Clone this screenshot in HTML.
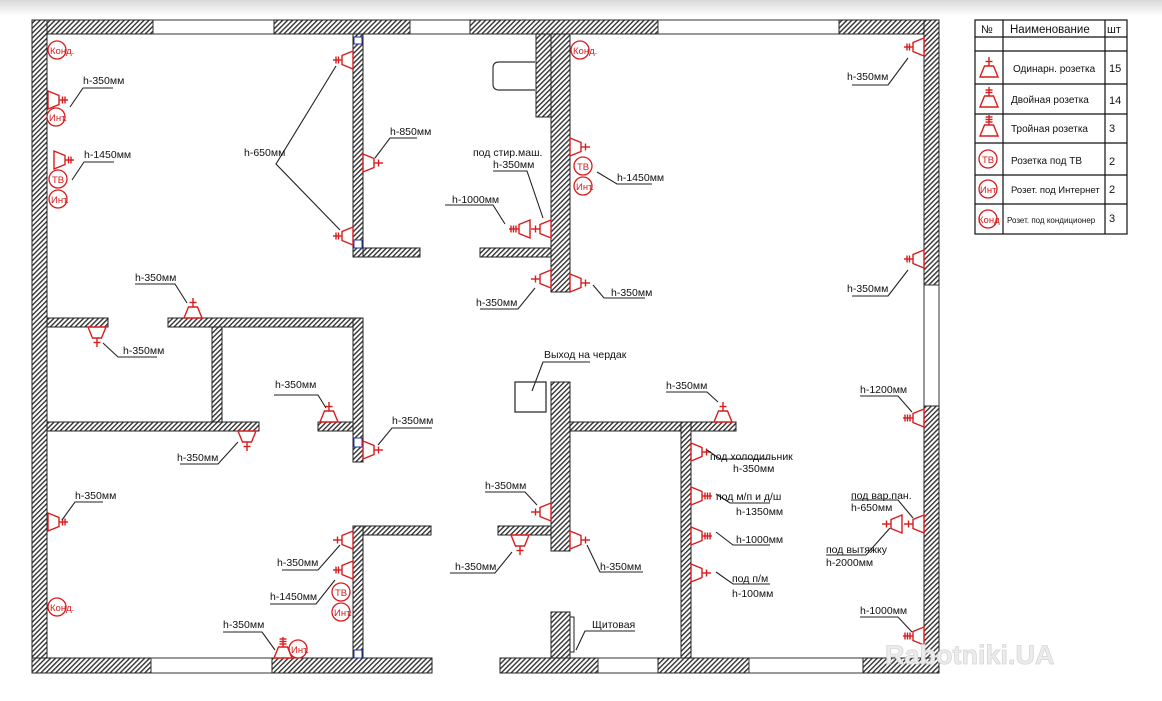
<!DOCTYPE html>
<html><head><meta charset="utf-8"><style>
html,body{margin:0;padding:0;background:#fff;}
svg{display:block;font-family:"Liberation Sans",sans-serif;}
.t{font-size:10.5px;fill:#111;}
.r{fill:#d81c1c;font-size:9.5px;}
.ld{stroke:#222;stroke-width:1.1;fill:none;}
.w{fill:url(#h);stroke:#222;stroke-width:1;}
.win{fill:#fff;stroke:#333;stroke-width:1;}
.s{stroke:#d81c1c;stroke-width:1.4;fill:none;}
</style></head><body>
<svg width="1162" height="701" viewBox="0 0 1162 701" xmlns="http://www.w3.org/2000/svg">
<defs>
<linearGradient id="g" x1="0" y1="0" x2="0" y2="1"><stop offset="0" stop-color="#d8d8d8"/><stop offset="1" stop-color="#fff"/></linearGradient>
<pattern id="h" patternUnits="userSpaceOnUse" width="3.5" height="3.5" patternTransform="rotate(45)">
<rect width="3.5" height="3.5" fill="#fff"/><rect width="1.4" height="3.5" fill="#333"/></pattern>
<g id="s1"><polygon class="s" points="-9,0 9,0 4.5,-11 -4.5,-11"/><line class="s" x1="0" y1="-11" x2="0" y2="-20"/><line class="s" x1="-3.5" y1="-15.5" x2="3.5" y2="-15.5"/></g>
<g id="s2"><polygon class="s" points="-9,0 9,0 4.5,-11 -4.5,-11"/><line class="s" x1="0" y1="-11" x2="0" y2="-20"/><line class="s" x1="-3.5" y1="-14.5" x2="3.5" y2="-14.5"/><line class="s" x1="-3.5" y1="-17" x2="3.5" y2="-17"/></g>
<g id="s3"><polygon class="s" points="-9,0 9,0 4.5,-11 -4.5,-11"/><line class="s" x1="0" y1="-11" x2="0" y2="-21"/><line class="s" x1="-3.5" y1="-14" x2="3.5" y2="-14"/><line class="s" x1="-3.5" y1="-16.5" x2="3.5" y2="-16.5"/><line class="s" x1="-3.5" y1="-19" x2="3.5" y2="-19"/></g>
</defs>
<rect width="1162" height="16" fill="url(#g)"/>

<!-- outer walls -->
<rect class="w" x="32" y="20" width="121" height="14"/>
<rect class="win" x="153" y="20" width="121" height="14"/>
<rect class="w" x="274" y="20" width="136" height="14"/>
<rect class="win" x="410" y="20" width="60" height="14"/>
<rect class="w" x="470" y="20" width="188" height="14"/>
<rect class="win" x="658" y="20" width="181" height="14"/>
<rect class="w" x="839" y="20" width="100" height="14"/>
<rect class="w" x="32" y="20" width="15" height="653"/>
<rect class="w" x="924" y="20" width="15" height="265"/>
<rect class="win" x="924" y="285" width="15" height="121"/>
<rect class="w" x="924" y="406" width="15" height="267"/>
<rect class="w" x="32" y="658" width="119" height="15"/>
<rect class="win" x="151" y="658" width="121" height="15"/>
<rect class="w" x="272" y="658" width="160" height="15"/>
<rect class="w" x="500" y="658" width="98" height="15"/>
<rect class="win" x="598" y="658" width="60" height="15"/>
<rect class="w" x="658" y="658" width="91" height="15"/>
<rect class="win" x="749" y="658" width="114" height="15"/>
<rect class="w" x="863" y="658" width="76" height="15"/>

<!-- interior left -->
<rect class="w" x="353" y="34" width="10" height="223"/>
<rect class="w" x="363" y="248" width="57" height="9"/>
<rect class="w" x="47" y="318" width="61" height="9"/>
<rect class="w" x="168" y="318" width="195" height="9"/>
<rect class="w" x="353" y="318" width="10" height="144"/>
<rect class="w" x="212" y="327" width="10" height="95"/>
<rect class="w" x="47" y="422" width="212" height="9"/>
<rect class="w" x="318" y="422" width="35" height="9"/>
<rect class="w" x="353" y="526" width="10" height="132"/>
<rect class="w" x="363" y="526" width="68" height="9"/>
<rect x="354" y="37" width="8" height="7" fill="#fff" stroke="#2233aa"/>
<rect x="354" y="240" width="8" height="8" fill="#fff" stroke="#2233aa"/>
<rect x="354" y="438" width="8" height="9" fill="#fff" stroke="#2233aa"/>
<rect x="354" y="650" width="8" height="8" fill="#fff" stroke="#2233aa"/>

<!-- interior middle -->
<rect class="w" x="536" y="34" width="15" height="83"/>
<rect class="w" x="551" y="34" width="19" height="258"/>
<path d="M535 62 H499 Q493 62 493 68 V84 Q493 90 499 90 H535" fill="#fff" stroke="#333" stroke-width="1.2"/>
<rect class="w" x="480" y="248" width="71" height="9"/>
<rect class="w" x="551" y="382" width="19" height="169"/>
<rect class="w" x="498" y="526" width="53" height="9"/>
<rect x="515" y="382" width="31" height="30" fill="#fff" stroke="#222" stroke-width="1.2"/>
<rect class="w" x="570" y="422" width="166" height="9"/>
<rect class="w" x="681" y="422" width="10" height="236"/>
<rect class="w" x="551" y="612" width="19" height="46"/>
<rect x="570" y="617" width="4" height="35" fill="#fff" stroke="#222"/>

<!-- circles -->
<g fill="none" stroke="#d81c1c" stroke-width="1.3">
<circle cx="57" cy="50" r="9"/><circle cx="56" cy="117" r="9"/><circle cx="58" cy="179" r="9"/><circle cx="58" cy="199" r="9"/>
<circle cx="580" cy="50" r="9"/><circle cx="583" cy="166" r="9"/><circle cx="583" cy="186" r="9"/>
<circle cx="57" cy="607" r="9"/><circle cx="341" cy="592" r="9"/><circle cx="341" cy="612" r="9"/><circle cx="298" cy="649" r="9"/>
</g>
<g class="r">
<text x="50" y="54">Конд.</text><text x="49" y="121">Инт.</text><text x="52" y="183">ТВ</text><text x="51" y="203">Инт.</text>
<text x="573" y="54">Конд.</text><text x="577" y="170">ТВ</text><text x="576" y="190">Инт.</text>
<text x="50" y="611">Конд.</text><text x="335" y="596">ТВ</text><text x="334" y="616">Инт.</text><text x="291" y="653">Инт.</text>
</g>

<!-- sockets -->
<use href="#s2" transform="translate(48,100) rotate(90)"/>
<use href="#s2" transform="translate(54,160) rotate(90)"/>
<use href="#s2" transform="translate(353,60) rotate(-90)"/>
<use href="#s2" transform="translate(353,236) rotate(-90)"/>
<use href="#s1" transform="translate(363,163) rotate(90)"/>
<use href="#s1" transform="translate(193,318)"/>
<use href="#s1" transform="translate(97,327) rotate(180)"/>
<use href="#s1" transform="translate(570,147) rotate(90)"/>
<use href="#s1" transform="translate(551,229) rotate(-90)"/>
<use href="#s3" transform="translate(530,229) rotate(-90)"/>
<use href="#s1" transform="translate(551,279) rotate(-90)"/>
<use href="#s1" transform="translate(570,283) rotate(90)"/>
<use href="#s2" transform="translate(924,47) rotate(-90)"/>
<use href="#s2" transform="translate(924,259) rotate(-90)"/>
<use href="#s3" transform="translate(924,418) rotate(-90)"/>
<use href="#s1" transform="translate(924,524) rotate(-90)"/>
<use href="#s1" transform="translate(902,524) rotate(-90)"/>
<use href="#s3" transform="translate(924,636) rotate(-90)"/>
<use href="#s1" transform="translate(691,452) rotate(90)"/>
<use href="#s3" transform="translate(691,496) rotate(90)"/>
<use href="#s3" transform="translate(691,536) rotate(90)"/>
<use href="#s1" transform="translate(691,573) rotate(90)"/>
<use href="#s1" transform="translate(723,422)"/>
<use href="#s1" transform="translate(551,512) rotate(-90)"/>
<use href="#s1" transform="translate(520,535) rotate(180)"/>
<use href="#s1" transform="translate(570,540) rotate(90)"/>
<use href="#s2" transform="translate(48,522) rotate(90)"/>
<use href="#s1" transform="translate(247,431) rotate(180)"/>
<use href="#s1" transform="translate(329,422)"/>
<use href="#s1" transform="translate(363,450) rotate(90)"/>
<use href="#s1" transform="translate(353,540) rotate(-90)"/>
<use href="#s2" transform="translate(353,570) rotate(-90)"/>
<use href="#s3" transform="translate(283,658)"/>

<!-- leaders -->
<g class="ld">
<path d="M70 107 L83 88 H113"/>
<path d="M72 180 L84 162 H114"/>
<path d="M336 66 L276 164 L340 230"/>
<path d="M375 158 L390 138 H417"/>
<path d="M187 303 L175 284 H135"/>
<path d="M103 343 L118 357 H157"/>
<path d="M597 172 L617 184 H652"/>
<path d="M543 218 L527 171 H493"/>
<path d="M505 224 L493 205 H445"/>
<path d="M535 288 L518 309 H480"/>
<path d="M593 285 L604 298 H645"/>
<path d="M908 58 L888 85 H852"/>
<path d="M908 270 L888 296 H852"/>
<path d="M912 412 L898 396 H860"/>
<path d="M913 518 L898 500 H851"/>
<path d="M890 528 L866 555 H826"/>
<path d="M912 632 L898 617 H860"/>
<path d="M707 450 L720 459 H770"/>
<path d="M716 494 L730 503 H770"/>
<path d="M716 532 L733 545 H770"/>
<path d="M716 572 L733 584 H770"/>
<path d="M718 402 L707 392 H666"/>
<path d="M537 505 L525 492 H485"/>
<path d="M512 552 L495 573 H450"/>
<path d="M587 545 L600 572 H643"/>
<path d="M532 391 L543 362 H590"/>
<path d="M576 650 L585 631 H635"/>
<path d="M62 520 L75 502 H103"/>
<path d="M238 442 L218 464 H180"/>
<path d="M326 408 L318 395 H274"/>
<path d="M378 445 L392 428 H432"/>
<path d="M340 545 L318 570 H282"/>
<path d="M335 580 L316 604 H270"/>
<path d="M275 650 L262 632 H223"/>
</g>

<!-- labels -->
<g class="t">
<text x="83" y="84">h-350мм</text>
<text x="84" y="158">h-1450мм</text>
<text x="244" y="156">h-650мм</text>
<text x="390" y="135">h-850мм</text>
<text x="135" y="281">h-350мм</text>
<text x="123" y="354">h-350мм</text>
<text x="473" y="156">под стир.маш.</text>
<text x="493" y="168">h-350мм</text>
<text x="452" y="203">h-1000мм</text>
<text x="476" y="306">h-350мм</text>
<text x="611" y="296">h-350мм</text>
<text x="617" y="181">h-1450мм</text>
<text x="847" y="80">h-350мм</text>
<text x="847" y="292">h-350мм</text>
<text x="860" y="393">h-1200мм</text>
<text x="851" y="499">под вар.пан.</text>
<text x="851" y="511">h-650мм</text>
<text x="826" y="553">под вытяжку</text>
<text x="826" y="566">h-2000мм</text>
<text x="860" y="614">h-1000мм</text>
<text x="710" y="460">под холодильник</text>
<text x="733" y="472">h-350мм</text>
<text x="716" y="500">под м/п и д/ш</text>
<text x="736" y="515">h-1350мм</text>
<text x="736" y="543">h-1000мм</text>
<text x="732" y="582">под п/м</text>
<text x="732" y="597">h-100мм</text>
<text x="666" y="389">h-350мм</text>
<text x="544" y="358">Выход на чердак</text>
<text x="485" y="489">h-350мм</text>
<text x="455" y="570">h-350мм</text>
<text x="600" y="570">h-350мм</text>
<text x="592" y="628">Щитовая</text>
<text x="75" y="499">h-350мм</text>
<text x="177" y="461">h-350мм</text>
<text x="275" y="388">h-350мм</text>
<text x="392" y="424">h-350мм</text>
<text x="277" y="566">h-350мм</text>
<text x="270" y="600">h-1450мм</text>
<text x="223" y="628">h-350мм</text>
</g>

<!-- legend -->
<g stroke="#111" stroke-width="1.2" fill="none">
<rect x="975" y="20" width="152" height="214"/>
<line x1="1003" y1="20" x2="1003" y2="234"/><line x1="1105" y1="20" x2="1105" y2="234"/>
<line x1="975" y1="37" x2="1127" y2="37"/><line x1="975" y1="51" x2="1127" y2="51"/>
<line x1="975" y1="84" x2="1127" y2="84"/><line x1="975" y1="114" x2="1127" y2="114"/>
<line x1="975" y1="143" x2="1127" y2="143"/><line x1="975" y1="175" x2="1127" y2="175"/>
<line x1="975" y1="204" x2="1127" y2="204"/>
</g>
<use href="#s1" transform="translate(989,77)"/>
<use href="#s2" transform="translate(989,107)"/>
<use href="#s3" transform="translate(989,136)"/>
<g fill="none" stroke="#d81c1c" stroke-width="1.3"><circle cx="988" cy="159" r="9"/><circle cx="988" cy="189" r="9"/><circle cx="988" cy="219" r="9"/></g>
<g class="r"><text x="982" y="163">ТВ</text><text x="980" y="193">Инт</text><text x="978" y="223">Конд</text></g>
<g font-size="11" fill="#111">
<text x="981" y="33">№</text><text x="1010" y="33" font-size="11.5">Наименование</text><text x="1107" y="33">шт</text>
<text x="1013" y="72" font-size="10">Одинарн. розетка</text><text x="1109" y="72">15</text>
<text x="1011" y="103" font-size="10">Двойная розетка</text><text x="1109" y="104">14</text>
<text x="1011" y="132" font-size="10">Тройная розетка</text><text x="1109" y="132">3</text>
<text x="1011" y="164" font-size="10">Розетка под ТВ</text><text x="1109" y="165">2</text>
<text x="1011" y="193" font-size="9.5">Розет. под Интернет</text><text x="1109" y="193">2</text>
<text x="1007" y="223" font-size="8">Розет. под кондиционер</text><text x="1109" y="222">3</text>
</g>

<!-- watermark -->
<text x="885" y="664" font-size="27" font-weight="bold" fill="#ececec" stroke="#d6d6d6" stroke-width="0.8">Rabotniki.UA</text>
</svg>
</body></html>
